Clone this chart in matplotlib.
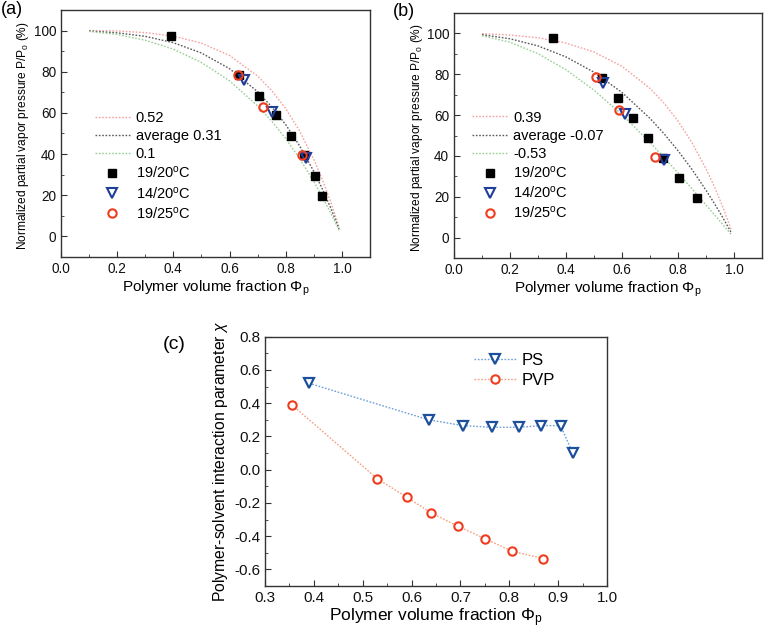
import matplotlib
matplotlib.use("Agg")
import matplotlib.pyplot as plt
from matplotlib.ticker import MultipleLocator

plt.rcParams['font.family'] = ['Liberation Sans', 'DejaVu Sans']
plt.rcParams['mathtext.fontset'] = 'custom'
plt.rcParams['mathtext.rm'] = 'Liberation Sans'
plt.rcParams['mathtext.it'] = 'Liberation Sans:italic'
plt.rcParams['axes.unicode_minus'] = False

# --- model curves (a) and (b) ---
phi_curve = [0.1, 0.2, 0.3, 0.4, 0.5, 0.6, 0.7, 0.75, 0.8, 0.85, 0.9, 0.93, 0.96, 0.99]
a_hi = [100.0, 99.8, 99.0, 97.3, 93.9, 87.9, 77.9, 70.9, 62.1, 51.1, 37.5, 27.8, 16.9, 4.5]
a_avg = [99.8, 98.9, 97.2, 94.1, 89.1, 81.5, 70.3, 63.0, 54.3, 43.9, 31.6, 23.2, 13.9, 3.6]
a_lo = [99.6, 98.1, 95.3, 91.0, 84.5, 75.6, 63.4, 56.0, 47.5, 37.7, 26.7, 19.3, 11.5, 3.0]
b_hi = [99.9, 99.2, 97.9, 95.3, 90.9, 83.9, 73.1, 65.9, 57.1, 46.5, 33.7, 24.9, 15.0, 3.9]
b_avg = [99.4, 97.4, 93.9, 88.5, 81.0, 71.1, 58.4, 50.9, 42.6, 33.4, 23.2, 16.7, 9.8, 2.5]
b_lo = [98.9, 95.7, 90.1, 82.2, 72.2, 60.2, 46.6, 39.3, 31.7, 23.9, 16.0, 11.2, 6.4, 1.6]
a_curve_labels = ['0.52', 'average 0.31', '0.1']
b_curve_labels = ['0.39', 'average -0.07', '-0.53']

# --- measured points, panel (a) PS ---
a_sq_x = [0.39, 0.633, 0.705, 0.767, 0.82, 0.865, 0.905, 0.93]
a_sq_y = [97.6, 78.5, 68.4, 58.9, 48.8, 39.4, 29.3, 19.4]
a_tri_x = [0.651, 0.751, 0.872]
a_tri_y = [76.1, 60.6, 38.2]
a_cir_x = [0.631, 0.72, 0.859]
a_cir_y = [78.4, 62.9, 39.4]

# --- measured points, panel (b) PVP ---
b_sq_x = [0.352, 0.53, 0.587, 0.638, 0.693, 0.748, 0.803, 0.868]
b_sq_y = [97.7, 78.2, 68.2, 58.4, 48.9, 39.2, 29.1, 19.4]
b_tri_x = [0.532, 0.61, 0.75]
b_tri_y = [75.9, 60.6, 38.2]
b_cir_x = [0.508, 0.59, 0.718]
b_cir_y = [78.5, 62.7, 39.3]

point_labels = ['19/20$^\\mathrm{o}$C', '14/20$^\\mathrm{o}$C', '19/25$^\\mathrm{o}$C']

# --- panel (c) chi vs phi ---
ps_x = [0.39, 0.635, 0.705, 0.765, 0.82, 0.865, 0.905, 0.93]
ps_chi = [0.52, 0.30, 0.265, 0.255, 0.255, 0.265, 0.265, 0.10]
pvp_x = [0.355, 0.53, 0.59, 0.64, 0.695, 0.75, 0.805, 0.87]
pvp_chi = [0.39, -0.055, -0.165, -0.26, -0.34, -0.415, -0.49, -0.535]

curve_colors = ['#f4a3a3', '#5a5a5a', '#98d098']
tri_color = '#1f3d99'
cir_color = '#f03c1e'
spine_color = '#333333'


def style_axes(ax, fs=10):
    for s in ax.spines.values():
        s.set_color(spine_color)
        s.set_linewidth(1.0)
    ax.tick_params(which='both', direction='in', top=False, right=False,
                   labelsize=fs, colors=spine_color, labelcolor='#111111')
    ax.tick_params(which='major', length=4)
    ax.tick_params(which='minor', length=2.5)


def vapor_panel(ax, curves, labels, sq, tri, cir, label_x):
    for yv, lab, c in zip(curves, labels, curve_colors):
        ax.plot(phi_curve, yv, linestyle=(0, (1.2, 1.2)), color=c, lw=1.0, label=lab)
    ax.plot(sq[0], sq[1], 's', ms=6.3, color='black', ls='none', label=point_labels[0])
    ax.plot(tri[0], tri[1], 'v', ms=7, mfc='none', mec=tri_color, mew=1.5, ls='none',
            label=point_labels[1])
    ax.plot(cir[0], cir[1], 'o', ms=6, mfc='none', mec=cir_color, mew=1.5, ls='none',
            label=point_labels[2])
    ax.set_xlim(0, 1.1)
    ax.set_ylim(-10, 110)
    ax.set_xticks([0.0, 0.2, 0.4, 0.6, 0.8, 1.0])
    ax.set_xticklabels(['0.0', '0.2', '0.4', '0.6', '0.8', '1.0'])
    ax.xaxis.set_minor_locator(MultipleLocator(0.1))
    ax.set_yticks([0, 20, 40, 60, 80, 100])
    ax.yaxis.set_minor_locator(MultipleLocator(10))
    ax.set_xlabel('Polymer volume fraction \u03a6$_\\mathrm{p}$', fontsize=11, labelpad=2)
    ax.set_ylabel('Normalized partial vapor pressure P/P$_\\mathrm{0}$ (%)', fontsize=8.6)
    ax.yaxis.set_label_coords(label_x, 0.49)
    style_axes(ax, fs=9.8)


fig = plt.figure(figsize=(7.69, 6.36), dpi=100)

ax1 = fig.add_axes([0.0793, 0.5959, 0.4018, 0.3884])
vapor_panel(ax1, [a_hi, a_avg, a_lo], a_curve_labels,
            (a_sq_x, a_sq_y), (a_tri_x, a_tri_y), (a_cir_x, a_cir_y), -0.097)
ax1.legend(loc='upper left', bbox_to_anchor=(0.11, 0.592), frameon=False, fontsize=10.5,
           borderpad=0, borderaxespad=0, labelspacing=0.28, handlelength=2.4,
           handletextpad=0.4)

ax2 = fig.add_axes([0.5904, 0.5943, 0.4005, 0.3852])
vapor_panel(ax2, [b_hi, b_avg, b_lo], b_curve_labels,
            (b_sq_x, b_sq_y), (b_tri_x, b_tri_y), (b_cir_x, b_cir_y), -0.094)
ax2.legend(loc='upper left', bbox_to_anchor=(0.06, 0.602), frameon=False, fontsize=10.5,
           borderpad=0, borderaxespad=0, labelspacing=0.28, handlelength=2.4,
           handletextpad=0.4)

ax3 = fig.add_axes([0.3446, 0.0786, 0.4447, 0.3920])
ax3.plot(ps_x, ps_chi, linestyle=(0, (1.2, 1.2)), color='#6f9fd8', lw=1.0,
         marker='v', ms=7, mfc='white', mec='#1c4f9c', mew=1.6, label='PS')
ax3.plot(pvp_x, pvp_chi, linestyle=(0, (1.2, 1.2)), color='#f5a07e', lw=1.0,
         marker='o', ms=6, mfc='white', mec=cir_color, mew=1.5, label='PVP')
ax3.set_xlim(0.3, 1.0)
ax3.set_ylim(-0.7, 0.8)
ax3.set_xticks([0.3, 0.4, 0.5, 0.6, 0.7, 0.8, 0.9, 1.0])
ax3.xaxis.set_minor_locator(MultipleLocator(0.05))
ax3.set_yticks([-0.6, -0.4, -0.2, 0.0, 0.2, 0.4, 0.6, 0.8])
ax3.yaxis.set_minor_locator(MultipleLocator(0.1))
ax3.set_xlabel('Polymer volume fraction \u03a6$_\\mathrm{p}$', fontsize=12.5, labelpad=1)
ax3.set_ylabel('Polymer-solvent interaction parameter $\\chi$', fontsize=11.3, labelpad=3)
style_axes(ax3, fs=11)
ax3.legend(loc='upper left', bbox_to_anchor=(0.61, 0.935), frameon=False, fontsize=12,
           borderpad=0, borderaxespad=0, labelspacing=0.3, handlelength=2.6,
           handletextpad=0.3)

fig.text(0.001, 0.999, '(a)', fontsize=13, va='top', ha='left')
fig.text(0.511, 0.995, '(b)', fontsize=13, va='top', ha='left')
fig.text(0.212, 0.472, '(c)', fontsize=14, va='top', ha='left')

fig.savefig('out.png', dpi=100)
